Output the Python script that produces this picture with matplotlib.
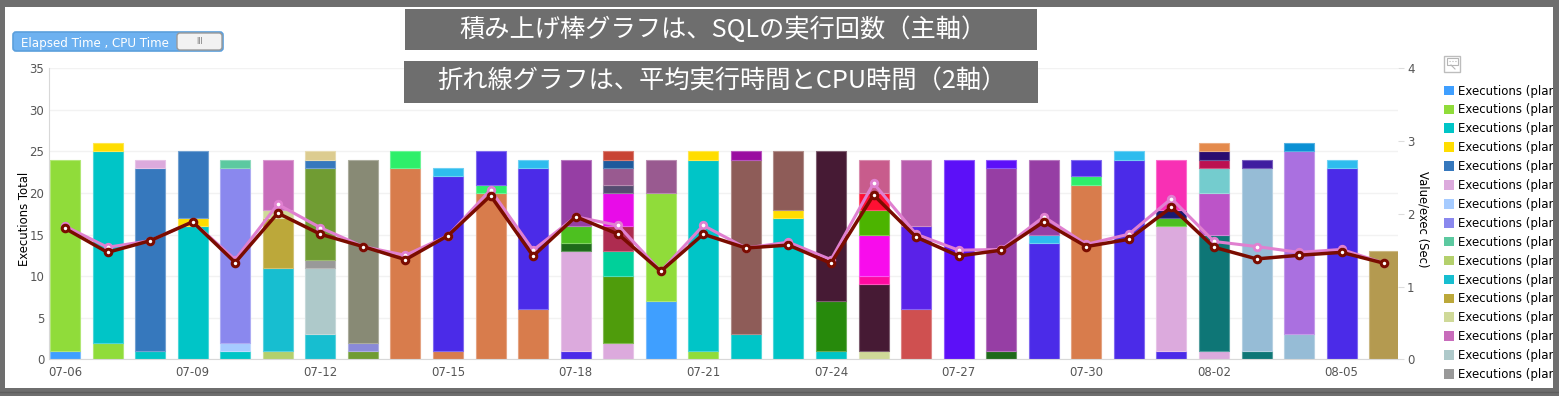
import matplotlib
matplotlib.use("Agg")
import matplotlib.pyplot as plt
from matplotlib.patches import Rectangle, FancyBboxPatch, Patch
from matplotlib.transforms import Bbox

W, H = 1559, 396

days = ["07-06","07-07","07-08","07-09","07-10","07-11","07-12","07-13","07-14","07-15","07-16",
        "07-17","07-18","07-19","07-20","07-21","07-22","07-23","07-24","07-25","07-26","07-27",
        "07-28","07-29","07-30","07-31","08-01","08-02","08-03","08-04","08-05","08-06"]
elapsed = [1.83,1.54,1.63,1.89,1.37,2.13,1.81,1.55,1.43,1.70,2.33,
           1.50,1.96,1.84,1.21,1.84,1.53,1.61,1.37,2.42,1.72,1.50,1.51,
           1.96,1.58,1.72,2.21,1.62,1.55,1.47,1.51,1.32]
cpu = [1.80,1.47,1.63,1.89,1.33,2.01,1.72,1.55,1.37,1.70,2.25,
       1.42,1.96,1.72,1.21,1.72,1.53,1.57,1.32,2.26,1.68,1.42,1.50,
       1.89,1.55,1.65,2.09,1.54,1.38,1.43,1.47,1.32]

plan_colors = {
    "a":"#3f9fff","b":"#90dc3a","c":"#00c5c7","d":"#ffdd00","e":"#3678bd","f":"#dcaadd",
    "g":"#a6cbff","h":"#8a88ee","i":"#5cc9a0","j":"#b4d06c","k":"#17bed0","l":"#bca83a",
    "m":"#cfd998","n":"#c86cbb","o":"#aec9ca","p":"#999999",
    "q":"#709c33","r":"#dccc90","s":"#888a75","t":"#8a8ad8","u":"#d87c4c","v":"#2eef6a",
    "w":"#4b2be8","x":"#2ebcee","y":"#1e6a1a","z":"#4dc020","A":"#963ea4","B":"#4f9c0c",
    "C":"#00d09a","D":"#ae2c50","E":"#e80ce8","F":"#554c70","G":"#995a90","H":"#1e5a9c",
    "I":"#c84434","J":"#8e5c58","K":"#9a0ca0","L":"#278a0c","M":"#461a34","N":"#ff0aa0",
    "O":"#f80cec","P":"#4cb400","Q":"#ff1033","R":"#c85c8c","S":"#cf5050","T":"#5a22e8",
    "U":"#b85cac","V":"#5c10f8","W":"#1a1a70","X":"#f830b4","Y":"#0e7676","Z":"#bc54c8",
    "0":"#74ccce","1":"#bc1050","2":"#2a0c70","3":"#e48a4c","4":"#96bcd6","5":"#3f1ca0",
    "6":"#aa70e0","7":"#0a90d4","8":"#b49a50",
}
day_plans = ["ab","bcd","cef","cde","cghi","jklmn","kopqer","qts","uv","uwx","uvw",
             "uwx","wfyzA","fBCDEFGHI","abG","bcd","cJK","cdJ","cLM","mMNOPQR","STU","V",
             "yAV","wxA","uvw","wx","wfzWX","fYZ0123","Y45","467","wx","8"]
day_counts = [[1,23],[2,23,1],[1,22,1],[16,1,8],[1,1,21,1],[1,10,6,1,6],[3,8,1,11,1,1],[1,1,22],[23,2],[1,21,1],[20,1,4],
              [6,17,1],[1,12,1,2,8],[2,8,3,3,4,1,2,1,1],[7,13,4],[1,23,1],[3,21,1],[17,1,7],[1,6,18],[1,8,1,5,3,2,4],[6,10,8],[24],
              [1,22,1],[14,1,9],[21,1,2],[24,1],[1,15,1,1,6],[1,14,5,3,1,1,1],[1,22,1],[3,22,1],[23,1],[13]]
legend_plans = "abcdefghijklmnop"
legend_label = "Executions (plan"

tick_idx = [0,3,6,9,12,15,18,21,24,27,30]
left_ticks = [0,5,10,15,20,25,30,35]
right_ticks = [0,1,2,3,4]


def lighten(hexcol, f=0.3):
    r, g, b = matplotlib.colors.to_rgb(hexcol)
    return (r + (1-r)*f, g + (1-g)*f, b + (1-b)*f)


fig = plt.figure(figsize=(W/100, H/100), dpi=100, facecolor="#6e6e6e")
plt.rcParams["font.family"] = ["DejaVu Sans"]
fig.add_artist(Rectangle((5/W, 1-388/H), (1553-5)/W, (388-7)/H, transform=fig.transFigure,
                         facecolor="white", edgecolor="none", zorder=-5))

L, R, T, B = 49, 1398, 68.3, 359.3
ax = fig.add_axes([L/W, 1-B/H, (R-L)/W, (B-T)/H], facecolor="none")
ax.set_xlim(-0.376, 31.324)
ax.set_ylim(0, 35)
ax.set_axisbelow(True)
ax.grid(axis="y", color="#f2f2f2", lw=1)
for i, (plans, counts) in enumerate(zip(day_plans, day_counts)):
    bottom = 0
    for p, c in zip(plans, counts):
        col = plan_colors[p]
        ax.bar(i, c, bottom=bottom, width=0.706, color=col, edgecolor=lighten(col), linewidth=0.8)
        bottom += c
for s in ["top", "right"]:
    ax.spines[s].set_visible(False)
for s in ["left", "bottom"]:
    ax.spines[s].set_color("#d8d8d8")
ax.set_xticks(tick_idx)
ax.set_xticklabels([days[i] for i in tick_idx])
ax.set_yticks(left_ticks)
ax.tick_params(axis="both", length=0, labelsize=8.5, labelcolor="#555555")
ax.tick_params(axis="x", pad=4.5)
ax.tick_params(axis="y", pad=3.5)
ax.set_ylabel("Executions Total", fontsize=8.4, color="black", va="center")
ax.yaxis.set_label_coords((24-L)/(R-L), (B-219)/(B-T))

ax2 = ax.twinx()
ax2.set_ylim(0, 4)
ax2.set_yticks(right_ticks)
ax2.tick_params(axis="y", length=4, color="#dddddd", labelsize=8.5, labelcolor="#555555", pad=2.5)
for s in ax2.spines.values():
    s.set_visible(False)
ax2.set_ylabel("Value/exec (Sec)", fontsize=8.4, color="black", rotation=270, va="center")
ax2.yaxis.set_label_coords((1423-L)/(R-L), (B-219)/(B-T))
x = list(range(len(days)))
ax2.plot(x, elapsed, color="#e080d0", lw=2.2, marker="o", ms=4.7, mfc="white", mec="#e080d0", mew=2.0)
ax2.plot(x, cpu, color="#7a0c00", lw=2.5, marker="o", ms=4.7, mfc="white", mec="#7a0c00", mew=2.2)

# Legend, clipped by the panel edge like the reference
handles = [Patch(facecolor=plan_colors[p], edgecolor="none", label=legend_label) for p in legend_plans]
leg = fig.legend(handles=handles, loc="upper left", bbox_to_anchor=(1444/W, 1-84.5/H), frameon=False,
                 fontsize=8.5, borderpad=0, borderaxespad=0, handlelength=0.88, handleheight=0.88,
                 handletextpad=0.3, labelspacing=0.5)
clip = Bbox([[0, H-381], [1553, H]])
for t in leg.get_texts():
    t.set_clip_box(clip)
    t.set_clip_on(True)

# Pixel-coordinate overlay for chrome
ov = fig.add_axes([0, 0, 1, 1], facecolor="none", zorder=10)
ov.set_xlim(0, W)
ov.set_ylim(H, 0)
ov.axis("off")
ov.add_patch(Rectangle((405, 9), 632, 41, facecolor="#6e6e6e", edgecolor="none"))
ov.add_patch(Rectangle((404, 61), 634, 42, facecolor="#6e6e6e", edgecolor="none"))
jp = ["Noto Sans CJK JP", "DejaVu Sans"]
ov.text(723, 29.5, "積み上げ棒グラフは、SQLの実行回数（主軸）", color="white", fontsize=18.2, family=jp,
        ha="center", va="center")
ov.text(722, 81.5, "折れ線グラフは、平均実行時間とCPU時間（2軸）", color="white", fontsize=18.2, family=jp,
        ha="center", va="center")
# Toggle
ov.add_patch(FancyBboxPatch((13, 32), 210, 19, boxstyle="round,pad=0,rounding_size=3",
                            facecolor="#6db1f0", edgecolor="#5b9fdc", lw=1.2))
ov.add_patch(FancyBboxPatch((177, 33), 45, 17, boxstyle="round,pad=0,rounding_size=3",
                            facecolor="#f2f2f2", edgecolor="#9a9a9a", lw=1))
ov.text(21, 43.5, "Elapsed Time , CPU Time", color="white", fontsize=8.6, ha="left", va="center")
ov.text(200, 42, "III", color="#777777", fontsize=5.5, ha="center", va="center")
# Legend-menu icon
ov.add_patch(Rectangle((1444.5, 55.5), 16, 16, facecolor="white", edgecolor="#bdbdbd", lw=1))
ov.add_patch(Rectangle((1447, 58), 11, 7, facecolor="white", edgecolor="#b5b5b5", lw=0.8))
ov.plot([1449, 1456], [61, 61], color="#b5b5b5", lw=0.8, ls=":")
ov.plot([1451, 1455], [65, 69], color="#b5b5b5", lw=0.8)
ov.plot([0, W], [392, 392], color="#5e5e5e", lw=1)

fig.savefig("out.png", dpi=100, facecolor=fig.get_facecolor())
